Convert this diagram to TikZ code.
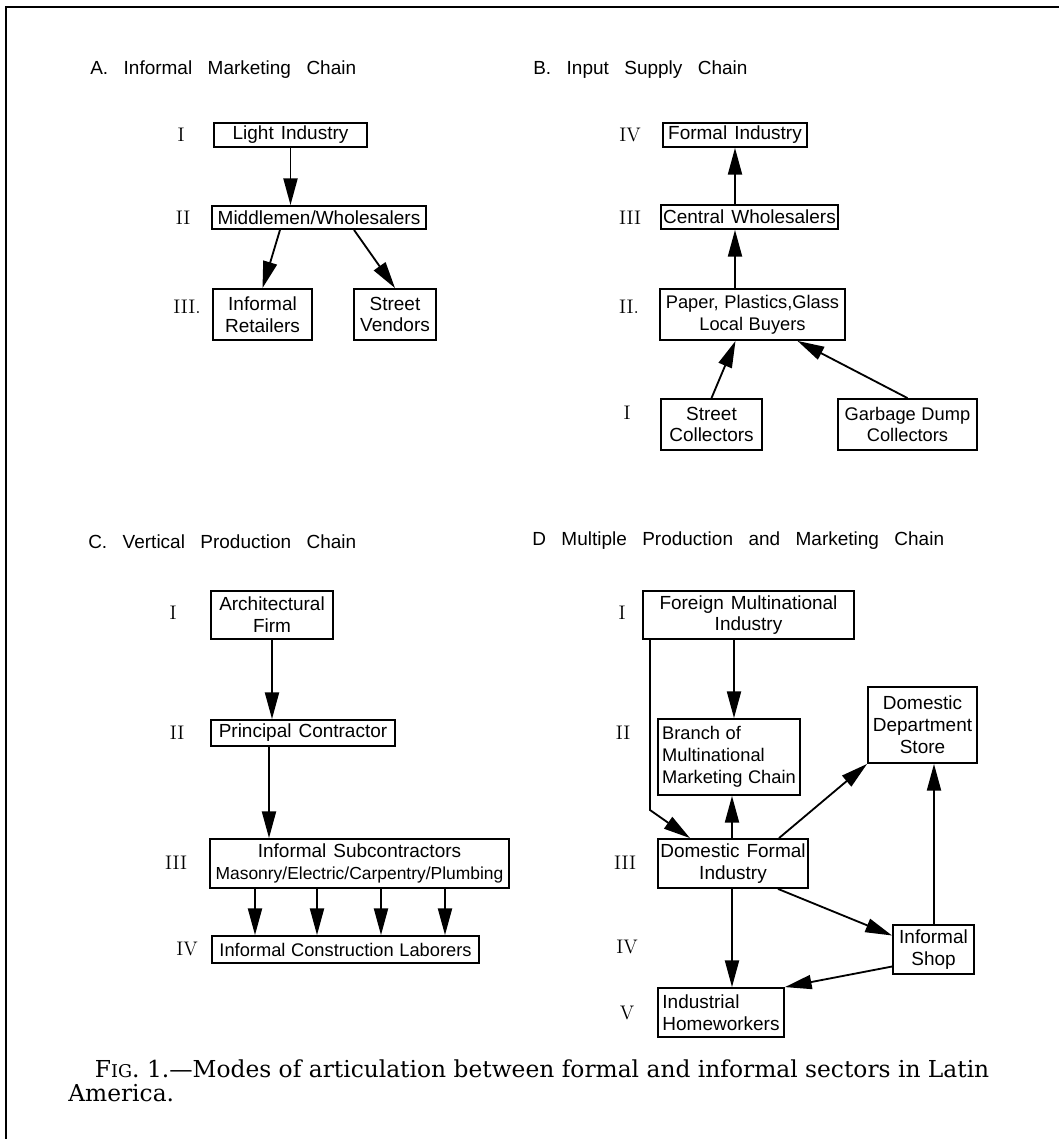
\documentclass[tikz,border=0pt]{standalone}
\usepackage{fontspec}
\newfontfamily\sanslet{Liberation Sans}
\newfontfamily\capserif{DejaVu Serif}[Ligatures=TeX]
\usetikzlibrary{arrows.meta,calc}

\newcommand\lettering{\sanslet\fontsize{13.5}{15.5}\selectfont\spaceskip=5pt}
\newcommand\smalllettering{\sanslet\fontsize{13}{15.5}\selectfont\spaceskip=4pt}
\newcommand\headfont{\sanslet\fontsize{13.5}{15.5}\selectfont\spaceskip=11pt}
\newcommand\numfont{\rmfamily\fontsize{14}{16}\selectfont}
\newcommand\capfont{\capserif\fontsize{16.6}{17}\selectfont}

\begin{document}
\begin{tikzpicture}[x=0.025cm, y=-0.025cm,
    box/.style={draw, line width=1.3pt, inner sep=0pt, align=center, font=\lettering},
    sz/.style 2 args={minimum width=#1*0.025cm, minimum height=#2*0.025cm},
    lvl/.style={font=\numfont, inner sep=0pt},
    hd/.style={anchor=west, font=\headfont, inner sep=0pt},
    arr/.style={-{Triangle[length=19pt,width=10pt]}, line width=1.3pt}]

\useasboundingbox (0,0) rectangle (1059,1139);

    % Frame round the figure, open at the right and at the bottom
    \draw[line width=2pt] (6,1139) -- (6,7) -- (1059,7);

    % A. Informal marketing chain
    \node[hd] (ta) at (90,70) {A. Informal Marketing Chain};
    \node[lvl] (la1) at (181,135) {I};
    \node[lvl] (la2) at (183,218) {II};
    \node[lvl] (la3) at (187,307) {III.};

            \node[box, sz={153}{24}] (a1) at (290.5,135) {Light Industry};
            \node[box, sz={214}{23}] (a2) at (319,217.5) {Middlemen/Wholesalers};
            \node[box, sz={99}{51}] (a3) at (262.5,314.5) {Informal\\Retailers};
            \node[box, sz={82}{51}] (a4) at (395,314.5) {Street\\Vendors};

    \draw[arr] (a1.south) -- (a1.south |- a2.north);
    \draw[arr] ($(a2.south)+(-39,0)$) -- (a3.north);
    \draw[arr] ($(a2.south)+(35,0)$) -- (a4.north);

    % B. Input supply chain, arrows point upwards
    \node[hd] (tb) at (533,70) {B. Input Supply Chain};
    \node[lvl] (lb4) at (630,135) {IV};
    \node[lvl] (lb3) at (630,218) {III};
    \node[lvl] (lb2) at (629,307) {II.};
    \node[lvl] (lb1) at (627,413) {I};

            \node[box, sz={144}{24}] (b1) at (735,135) {Formal Industry};
            \node[box, sz={177}{24}] (b2) at (749.5,217) {Central Wholesalers};
            \node[box, sz={185}{51}, font=\smalllettering] (b3) at (752.5,314.5) {Paper, Plastics,Glass\\Local Buyers};
            \node[box, sz={101}{51}] (b4) at (711.5,424.5) {Street\\Collectors};
            \node[box, sz={139}{51}, font=\smalllettering] (b5) at (907.5,424.5) {Garbage Dump\\Collectors};

    \draw[arr] (b1.south |- b2.north) -- (b1.south);
    \draw[arr] (b1.south |- b3.north) -- (b1.south |- b2.south);
    \draw[arr] (b4.north) -- ($(b3.south)+(-17,0)$);
    \draw[arr] (b5.north) -- ($(b3.south)+(45,0)$);

    % C. Vertical production chain
    \node[hd] (tc) at (88,542) {C. Vertical Production Chain};
    \node[lvl] (lc1) at (173,613) {I};
    \node[lvl] (lc2) at (177,733) {II};
    \node[lvl] (lc3) at (176,863) {III};
    \node[lvl] (lc4) at (187,949) {IV};

            \node[box, sz={122}{48}] (c1) at (272,615) {Architectural\\Firm};
            \node[box, sz={184}{26}] (c2) at (303,733) {Principal Contractor};
            \node[box, sz={299}{49}] (c3) at (359.5,863.5) {Informal Subcontractors\\{\fontsize{12.4}{15.5}\selectfont Masonry/Electric/Carpentry/Plumbing}};
            \node[box, sz={267}{27}, font=\smalllettering] (c4) at (345.5,949.5) {Informal Construction Laborers};

    \draw[arr] (c1.south) -- (c1.south |- c2.north);
    \draw[arr] ($(c2.south)+(-34,0)$) -- ($(c2.south |- c3.north)+(-34,0)$);
    \foreach \x in {255,317,381,445}
        \draw[arr] (\x,0 |- c3.south) -- (\x,0 |- c4.north);

    % D. Multiple production and marketing chain
    \node[hd] (td) at (532,541) {D Multiple Production and Marketing Chain};
    \node[lvl] (ld1) at (622,613) {I};
    \node[lvl] (ld2) at (623,733) {II};
    \node[lvl] (ld3) at (625,863) {III};
    \node[lvl] (ld4) at (627,947) {IV};
    \node[lvl] (ld5) at (627,1013) {V};

            \node[box, sz={211}{48}] (d1) at (748.5,615) {Foreign Multinational\\Industry};
            \node[box, sz={142}{76}, align=left, font=\smalllettering] (d2) at (729,757) {Branch of\\Multinational\\Marketing Chain};
            \node[box, sz={109}{76}] (d3) at (922.5,725) {Domestic\\Department\\Store};
            \node[box, sz={150}{49}] (d4) at (733,863.5) {Domestic Formal\\Industry};
            \node[box, sz={81}{49}] (d5) at (933.5,949.5) {Informal\\Shop};
            \node[box, sz={126}{49}, align=left] (d6) at (721,1012.5) {Industrial\\Homeworkers};

    \draw[arr] (734,0 |- d1.south) -- (734,0 |- d2.north);
    \draw[arr] (650,0 |- d1.south) -- (650,810) -- (690,0 |- d4.north);
    \draw[arr] (732,0 |- d4.north) -- (732,0 |- d2.south);
    \draw[arr] (779,0 |- d4.north) -- (d3.south west);
    \draw[arr] (934,0 |- d5.north) -- (934,0 |- d3.south);
    \draw[arr] (732,0 |- d4.south) -- (732,0 |- d6.north);
    \draw[arr] (778,0 |- d4.south) -- ($(d5.west)+(0,-14)$);
    \draw[arr] ($(d5.west)+(0,17)$) -- (d6.north east);

    % Caption
    \node[anchor=base west, align=left, font=\capfont, inner sep=0pt] (cap) at (68,1101)
        {\hspace{19pt}F{\fontsize{12.5}{12}\selectfont IG}. 1.---Modes of articulation between formal and informal sectors in Latin\\America.};

\end{tikzpicture}
\end{document}
